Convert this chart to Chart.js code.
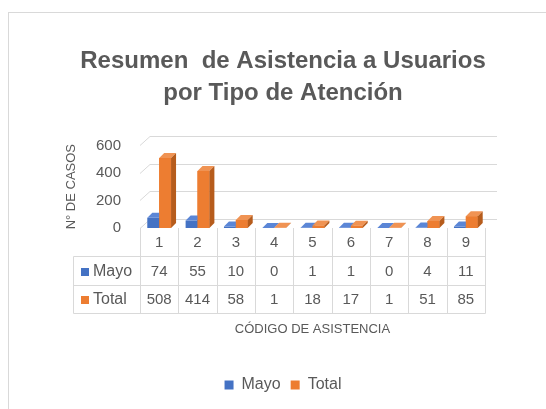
<!DOCTYPE html>
<html>
<head>
<meta charset="utf-8">
<script src="https://cdn.jsdelivr.net/npm/chart.js@4"></script>
<style>
  html, body { margin: 0; padding: 0; background: #fff; }
</style>
</head>
<body>
<canvas id="grafico" width="546" height="409"></canvas>
<script>
const categorias = ['1', '2', '3', '4', '5', '6', '7', '8', '9'];
const mayo = [74, 55, 10, 0, 1, 1, 0, 4, 11];
const total = [508, 414, 58, 1, 18, 17, 1, 51, 85];
const ticksY = [0, 200, 400, 600];

const GRIS = '#595959';
const LINEA = '#d9d9d9';
const AZUL = '#4472c4';
const NARANJA = '#ed7d31';

Chart.defaults.font.family = "'Liberation Sans', Arial, sans-serif";
Chart.defaults.color = GRIS;

// marco del gráfico (solo se ven borde izquierdo y superior)
const marco = {
  id: 'marco',
  beforeDraw(chart) {
    const c = chart.ctx;
    c.save();
    c.strokeStyle = LINEA;
    c.lineWidth = 1;
    c.strokeRect(8.5, 12.5, 700, 600);
    c.restore();
  }
};

// pared del fondo con perspectiva
const pared = {
  id: 'pared',
  beforeDatasetsDraw(chart) {
    const { ctx: c, chartArea: a, scales: { y } } = chart;
    c.save();
    c.strokeStyle = LINEA;
    c.lineWidth = 1;
    y.ticks.forEach(t => {
      const py = Math.round(y.getPixelForValue(t.value)) + 0.5;
      c.beginPath();
      c.moveTo(a.left, py);
      c.lineTo(a.left + 10, py - 9);
      c.lineTo(a.right + 12, py - 9);
      c.stroke();
    });
    c.restore();
  }
};

// caras superior y lateral de las columnas
const cubos = {
  id: 'cubos',
  afterDatasetsDraw(chart) {
    const c = chart.ctx;
    const d = 5;
    const barsA = chart.getDatasetMeta(0).data;
    const barsB = chart.getDatasetMeta(1).data;
    const poly = (pts, color) => {
      c.fillStyle = color;
      c.beginPath();
      c.moveTo(pts[0][0], pts[0][1]);
      for (let i = 1; i < pts.length; i++) c.lineTo(pts[i][0], pts[i][1]);
      c.closePath();
      c.fill();
    };
    const caras = (b, frente, arriba, lado) => {
      const { x, y, base, width } = b.getProps(['x', 'y', 'base', 'width'], true);
      const l = x - width / 2, r = x + width / 2;
      if (frente) { c.fillStyle = frente; c.fillRect(l, y, width, base - y); }
      poly([[l, y], [r, y], [r + d, y - d], [l + d, y - d]], arriba);
      poly([[r, y], [r + d, y - d], [r + d, base - d], [r, base]], lado);
    };
    c.save();
    barsA.forEach((b, i) => {
      caras(b, null, '#5b86d6', '#2f5597');
      caras(barsB[i], NARANJA, '#f09353', '#b65c1c');
    });
    c.restore();
  }
};

// tabla de datos bajo el eje
const tabla = {
  id: 'tabla',
  afterDraw(chart) {
    const { ctx: c, chartArea: a, scales: { x } } = chart;
    const n = chart.data.labels.length;
    const paso = x.getPixelForValue(1) - x.getPixelForValue(0);
    const x0 = x.getPixelForValue(0) - paso / 2;
    const x1 = x0 + paso * n;
    const yCab = a.bottom;
    const yF1 = yCab + 28, yF2 = yF1 + 29, yF3 = yF2 + 28;
    const xKey = 73;
    const px = v => Math.round(v) + 0.5;

    c.save();
    c.strokeStyle = LINEA;
    c.lineWidth = 1;
    c.beginPath();
    for (let i = 0; i <= n; i++) {
      c.moveTo(px(x0 + i * paso), yCab);
      c.lineTo(px(x0 + i * paso), px(yF3));
    }
    c.moveTo(px(xKey), px(yF1));
    c.lineTo(px(xKey), px(yF3));
    [yF1, yF2, yF3].forEach(yy => {
      c.moveTo(px(xKey), px(yy));
      c.lineTo(px(x1), px(yy));
    });
    c.stroke();

    c.fillStyle = GRIS;
    c.font = "15px 'Liberation Sans', Arial, sans-serif";
    c.textAlign = 'center';
    c.textBaseline = 'middle';
    chart.data.labels.forEach((lab, i) => {
      c.fillText(lab, x.getPixelForValue(i), (yCab + yF1) / 2 + 1);
    });

    const filas = [[yF1, yF2], [yF2, yF3]];
    chart.data.datasets.forEach((ds, k) => {
      const cy = (filas[k][0] + filas[k][1]) / 2 + 1;
      c.textAlign = 'center';
      c.fillStyle = GRIS;
      ds.data.forEach((v, i) => c.fillText(String(v), x.getPixelForValue(i), cy));
      c.fillStyle = ds.backgroundColor;
      c.fillRect(xKey + 8, Math.round(cy - 4), 8, 8);
      c.fillStyle = GRIS;
      c.textAlign = 'left';
      c.font = "16px 'Liberation Sans', Arial, sans-serif";
      c.fillText(ds.label, xKey + 20, cy);
      c.font = "15px 'Liberation Sans', Arial, sans-serif";
    });

    c.textAlign = 'center';
    c.font = "13px 'Liberation Sans', Arial, sans-serif";
    c.fillText('CÓDIGO DE ASISTENCIA', (x0 + x1) / 2, yF3 + 16);
    c.restore();
  }
};

new Chart(document.getElementById('grafico'), {
  type: 'bar',
  data: {
    labels: categorias,
    datasets: [
      { label: 'Mayo', data: mayo, backgroundColor: AZUL },
      { label: 'Total', data: total, backgroundColor: NARANJA }
    ]
  },
  options: {
    responsive: false,
    animation: false,
    layout: { padding: { left: 20, right: 0, top: 0, bottom: 6 } },
    datasets: { bar: { categoryPercentage: 0.62, barPercentage: 1.0 } },
    plugins: {
      tooltip: { enabled: false },
      title: {
        display: true,
        text: ['Resumen  de Asistencia a Usuarios', 'por Tipo de Atención'],
        color: GRIS,
        font: { size: 24, weight: 'bold', lineHeight: 1.32 },
        padding: { top: 46, bottom: 36 }
      },
      legend: {
        position: 'bottom',
        labels: {
          boxWidth: 9,
          boxHeight: 9,
          color: GRIS,
          font: { size: 16 },
          padding: 10
        }
      }
    },
    scales: {
      x: {
        grid: { display: false },
        border: { display: false },
        ticks: { display: false },
        afterFit: s => { s.height = 139; }
      },
      y: {
        min: 0,
        max: 600,
        afterBuildTicks: s => { s.ticks = ticksY.map(v => ({ value: v })); },
        grid: { display: false, drawTicks: false },
        border: { display: false },
        ticks: { color: GRIS, font: { size: 15 }, padding: 19 },
        title: {
          display: true,
          text: 'N° DE CASOS',
          color: GRIS,
          font: { size: 13 },
          padding: { top: 44, bottom: 0 }
        },
        afterFit: s => { s.width = 120; }
      },
      derecha: {
        type: 'linear',
        position: 'right',
        grid: { display: false, drawTicks: false },
        border: { display: false },
        ticks: { display: false },
        afterFit: s => { s.width = 61; }
      }
    }
  },
  plugins: [marco, pared, cubos, tabla]
});
</script>
</body>
</html>
